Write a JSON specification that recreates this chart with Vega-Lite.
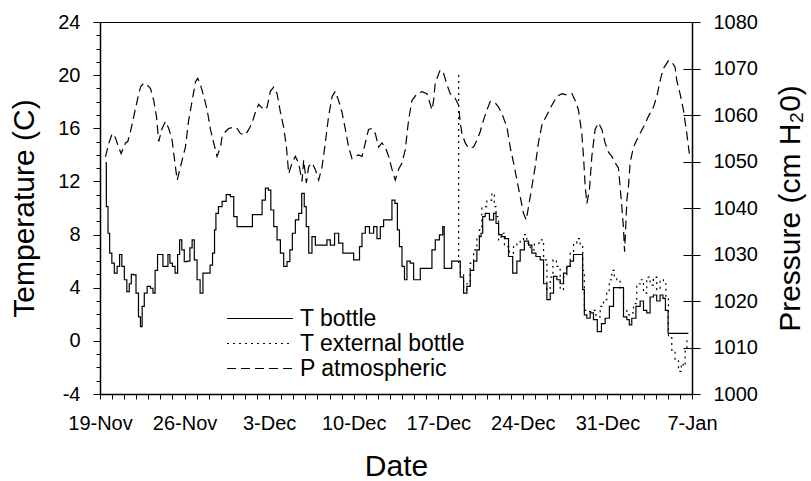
{
"$schema": "https://vega.github.io/schema/vega-lite/v6.json",
"autosize": {"type": "none"},
"width": 592, "height": 372,
"padding": {"left": 100, "top": 22, "right": 119, "bottom": 87},
"background": "white",
"config": {
  "font": "Liberation Sans",
  "view": {"stroke": "black", "strokeWidth": 1},
  "axis": {"grid": false, "domainColor": "black", "tickColor": "black", "labelColor": "black", "titleColor": "black", "labelFont": "Liberation Sans", "titleFont": "Liberation Sans", "labelFontSize": 20, "titleFontSize": 30, "titleFontWeight": "normal", "domainWidth": 1.5, "tickWidth": 1},
  "legend": {"title": null, "symbolType": "stroke", "symbolSize": 4356, "symbolStrokeWidth": 1.2, "symbolStrokeColor": "black", "labelFont": "Liberation Sans", "labelFontSize": 23, "labelColor": "black", "labelOffset": 6, "clipHeight": 25, "rowPadding": 0, "padding": 0, "labelLimit": 400}
},
"data": {"values": [
{"series":"T bottle","day":0.45,"value":13.4},{"series":"T bottle","day":0.60,"value":10.1},{"series":"T bottle","day":0.73,"value":8.1},{"series":"T bottle","day":0.87,"value":6.6},{"series":"T bottle","day":1.09,"value":5.85},{"series":"T bottle","day":1.28,"value":5.1},{"series":"T bottle","day":1.55,"value":5.6},{"series":"T bottle","day":1.70,"value":6.5},{"series":"T bottle","day":1.92,"value":5.6},{"series":"T bottle","day":2.11,"value":4.6},{"series":"T bottle","day":2.33,"value":3.7},{"series":"T bottle","day":2.52,"value":4.3},{"series":"T bottle","day":2.66,"value":5.0},{"series":"T bottle","day":2.88,"value":4.96},{"series":"T bottle","day":3.08,"value":3.6},{"series":"T bottle","day":3.29,"value":1.8},{"series":"T bottle","day":3.41,"value":1.07},{"series":"T bottle","day":3.57,"value":2.6},{"series":"T bottle","day":3.76,"value":3.6},{"series":"T bottle","day":4.04,"value":4.1},{"series":"T bottle","day":4.32,"value":3.96},{"series":"T bottle","day":4.45,"value":3.6},{"series":"T bottle","day":4.67,"value":5.3},{"series":"T bottle","day":4.86,"value":6.5},{"series":"T bottle","day":5.14,"value":6.5},{"series":"T bottle","day":5.28,"value":5.6},{"series":"T bottle","day":5.56,"value":5.6},{"series":"T bottle","day":5.69,"value":6.5},{"series":"T bottle","day":5.89,"value":5.85},{"series":"T bottle","day":6.10,"value":5.6},{"series":"T bottle","day":6.33,"value":5.1},{"series":"T bottle","day":6.52,"value":6.5},{"series":"T bottle","day":6.66,"value":7.6},{"series":"T bottle","day":6.88,"value":6.85},{"series":"T bottle","day":7.07,"value":5.96},{"series":"T bottle","day":7.34,"value":6.0},{"series":"T bottle","day":7.54,"value":7.0},{"series":"T bottle","day":7.71,"value":7.6},{"series":"T bottle","day":7.90,"value":6.1},{"series":"T bottle","day":8.17,"value":4.6},{"series":"T bottle","day":8.40,"value":3.6},{"series":"T bottle","day":8.64,"value":5.1},{"series":"T bottle","day":9.00,"value":5.1},{"series":"T bottle","day":9.22,"value":5.7},{"series":"T bottle","day":9.41,"value":6.6},{"series":"T bottle","day":9.55,"value":8.35},{"series":"T bottle","day":9.64,"value":9.6},{"series":"T bottle","day":9.97,"value":10.1},{"series":"T bottle","day":10.24,"value":10.5},{"series":"T bottle","day":10.65,"value":11.0},{"series":"T bottle","day":10.93,"value":10.85},{"series":"T bottle","day":11.21,"value":9.35},{"series":"T bottle","day":11.48,"value":8.6},{"series":"T bottle","day":12.03,"value":8.6},{"series":"T bottle","day":12.51,"value":8.6},{"series":"T bottle","day":12.72,"value":9.5},{"series":"T bottle","day":13.28,"value":9.5},{"series":"T bottle","day":13.55,"value":10.6},{"series":"T bottle","day":13.83,"value":11.5},{"series":"T bottle","day":14.04,"value":11.35},{"series":"T bottle","day":14.24,"value":9.85},{"series":"T bottle","day":14.52,"value":8.6},{"series":"T bottle","day":14.79,"value":7.6},{"series":"T bottle","day":15.07,"value":6.6},{"series":"T bottle","day":15.34,"value":5.6},{"series":"T bottle","day":15.62,"value":5.96},{"series":"T bottle","day":15.81,"value":6.85},{"series":"T bottle","day":16.03,"value":8.1},{"series":"T bottle","day":16.31,"value":9.1},{"series":"T bottle","day":16.58,"value":9.6},{"series":"T bottle","day":16.81,"value":11.1},{"series":"T bottle","day":17.00,"value":10.1},{"series":"T bottle","day":17.14,"value":8.6},{"series":"T bottle","day":17.41,"value":6.6},{"series":"T bottle","day":17.68,"value":7.85},{"series":"T bottle","day":17.97,"value":7.2},{"series":"T bottle","day":18.65,"value":7.2},{"series":"T bottle","day":18.92,"value":7.6},{"series":"T bottle","day":19.21,"value":7.2},{"series":"T bottle","day":19.62,"value":8.1},{"series":"T bottle","day":19.89,"value":7.35},{"series":"T bottle","day":20.31,"value":6.6},{"series":"T bottle","day":20.86,"value":6.6},{"series":"T bottle","day":21.13,"value":6.1},{"series":"T bottle","day":21.41,"value":6.1},{"series":"T bottle","day":21.55,"value":7.1},{"series":"T bottle","day":21.82,"value":8.1},{"series":"T bottle","day":22.10,"value":8.6},{"series":"T bottle","day":22.51,"value":8.1},{"series":"T bottle","day":22.79,"value":8.6},{"series":"T bottle","day":23.06,"value":7.7},{"series":"T bottle","day":23.34,"value":8.6},{"series":"T bottle","day":23.61,"value":9.1},{"series":"T bottle","day":24.03,"value":9.1},{"series":"T bottle","day":24.30,"value":10.6},{"series":"T bottle","day":24.52,"value":10.35},{"series":"T bottle","day":24.71,"value":8.35},{"series":"T bottle","day":24.86,"value":7.1},{"series":"T bottle","day":25.13,"value":5.6},{"series":"T bottle","day":25.27,"value":4.6},{"series":"T bottle","day":25.54,"value":6.0},{"series":"T bottle","day":25.82,"value":5.85},{"series":"T bottle","day":26.10,"value":4.6},{"series":"T bottle","day":26.37,"value":4.6},{"series":"T bottle","day":26.65,"value":5.45},{"series":"T bottle","day":27.34,"value":5.45},{"series":"T bottle","day":27.61,"value":6.85},{"series":"T bottle","day":27.89,"value":7.6},{"series":"T bottle","day":28.30,"value":7.97},{"series":"T bottle","day":28.44,"value":8.6},{"series":"T bottle","day":28.54,"value":5.45},{"series":"T bottle","day":29.68,"value":6.0},{"series":"T bottle","day":29.96,"value":4.8},{"series":"T bottle","day":30.23,"value":3.6},{"series":"T bottle","day":30.50,"value":4.1},{"series":"T bottle","day":30.79,"value":5.3},{"series":"T bottle","day":31.06,"value":6.0},{"series":"T bottle","day":31.33,"value":6.85},{"series":"T bottle","day":31.47,"value":7.85},{"series":"T bottle","day":31.61,"value":8.1},{"series":"T bottle","day":31.74,"value":9.35},{"series":"T bottle","day":32.03,"value":9.6},{"series":"T bottle","day":32.44,"value":9.1},{"series":"T bottle","day":32.71,"value":9.6},{"series":"T bottle","day":32.85,"value":8.85},{"series":"T bottle","day":33.13,"value":8.0},{"series":"T bottle","day":33.40,"value":7.85},{"series":"T bottle","day":33.68,"value":7.7},{"series":"T bottle","day":33.95,"value":6.35},{"series":"T bottle","day":34.37,"value":5.1},{"series":"T bottle","day":34.64,"value":6.0},{"series":"T bottle","day":34.92,"value":6.85},{"series":"T bottle","day":35.33,"value":7.5},{"series":"T bottle","day":35.61,"value":7.2},{"series":"T bottle","day":35.88,"value":6.6},{"series":"T bottle","day":36.29,"value":6.35},{"series":"T bottle","day":36.58,"value":6.1},{"series":"T bottle","day":36.85,"value":4.3},{"series":"T bottle","day":37.13,"value":3.1},{"series":"T bottle","day":37.40,"value":3.6},{"series":"T bottle","day":37.68,"value":4.85},{"series":"T bottle","day":37.95,"value":4.6},{"series":"T bottle","day":38.23,"value":4.3},{"series":"T bottle","day":38.50,"value":5.1},{"series":"T bottle","day":38.78,"value":5.6},{"series":"T bottle","day":39.06,"value":6.0},{"series":"T bottle","day":39.33,"value":6.5},{"series":"T bottle","day":39.88,"value":6.5},{"series":"T bottle","day":40.02,"value":3.85},{"series":"T bottle","day":40.16,"value":1.95},{"series":"T bottle","day":40.43,"value":1.7},{"series":"T bottle","day":40.71,"value":2.1},{"series":"T bottle","day":40.98,"value":1.6},{"series":"T bottle","day":41.34,"value":0.7},{"series":"T bottle","day":41.67,"value":1.3},{"series":"T bottle","day":41.95,"value":1.7},{"series":"T bottle","day":42.37,"value":2.6},{"series":"T bottle","day":42.64,"value":4.0},{"series":"T bottle","day":43.19,"value":4.0},{"series":"T bottle","day":43.47,"value":1.8},{"series":"T bottle","day":43.74,"value":1.6},{"series":"T bottle","day":43.88,"value":1.2},{"series":"T bottle","day":44.15,"value":1.7},{"series":"T bottle","day":44.57,"value":2.6},{"series":"T bottle","day":44.85,"value":3.0},{"series":"T bottle","day":45.12,"value":2.3},{"series":"T bottle","day":45.39,"value":2.1},{"series":"T bottle","day":45.67,"value":3.3},{"series":"T bottle","day":45.94,"value":3.45},{"series":"T bottle","day":46.22,"value":3.0},{"series":"T bottle","day":46.50,"value":3.45},{"series":"T bottle","day":46.69,"value":3.2},{"series":"T bottle","day":46.91,"value":2.3},{"series":"T bottle","day":47.13,"value":0.57},{"series":"T bottle","day":48.70,"value":0.57},
{"series":"T external bottle","day":29.68,"value":20.0},{"series":"T external bottle","day":29.69,"value":5.8},{"series":"T external bottle","day":29.96,"value":5.1},{"series":"T external bottle","day":30.23,"value":3.85},{"series":"T external bottle","day":30.50,"value":4.3},{"series":"T external bottle","day":30.79,"value":5.85},{"series":"T external bottle","day":31.06,"value":6.85},{"series":"T external bottle","day":31.33,"value":7.85},{"series":"T external bottle","day":31.47,"value":8.35},{"series":"T external bottle","day":31.74,"value":10.1},{"series":"T external bottle","day":32.30,"value":10.6},{"series":"T external bottle","day":32.57,"value":11.1},{"series":"T external bottle","day":32.71,"value":10.1},{"series":"T external bottle","day":32.85,"value":9.35},{"series":"T external bottle","day":33.13,"value":7.6},{"series":"T external bottle","day":33.27,"value":8.1},{"series":"T external bottle","day":33.68,"value":7.1},{"series":"T external bottle","day":34.09,"value":6.6},{"series":"T external bottle","day":34.37,"value":7.1},{"series":"T external bottle","day":34.64,"value":7.35},{"series":"T external bottle","day":34.92,"value":7.6},{"series":"T external bottle","day":35.19,"value":8.0},{"series":"T external bottle","day":35.47,"value":7.35},{"series":"T external bottle","day":35.75,"value":6.85},{"series":"T external bottle","day":36.16,"value":7.35},{"series":"T external bottle","day":36.58,"value":7.6},{"series":"T external bottle","day":36.85,"value":6.1},{"series":"T external bottle","day":37.13,"value":3.85},{"series":"T external bottle","day":37.40,"value":4.8},{"series":"T external bottle","day":37.59,"value":6.1},{"series":"T external bottle","day":37.95,"value":5.6},{"series":"T external bottle","day":38.23,"value":3.85},{"series":"T external bottle","day":38.50,"value":4.8},{"series":"T external bottle","day":38.78,"value":5.6},{"series":"T external bottle","day":39.06,"value":6.6},{"series":"T external bottle","day":39.33,"value":7.35},{"series":"T external bottle","day":39.60,"value":7.7},{"series":"T external bottle","day":39.88,"value":7.1},{"series":"T external bottle","day":40.02,"value":5.3},{"series":"T external bottle","day":40.16,"value":2.3},{"series":"T external bottle","day":40.43,"value":2.2},{"series":"T external bottle","day":40.84,"value":2.3},{"series":"T external bottle","day":41.26,"value":1.8},{"series":"T external bottle","day":41.54,"value":2.6},{"series":"T external bottle","day":41.81,"value":3.1},{"series":"T external bottle","day":42.08,"value":3.6},{"series":"T external bottle","day":42.22,"value":4.6},{"series":"T external bottle","day":42.50,"value":5.3},{"series":"T external bottle","day":42.64,"value":4.8},{"series":"T external bottle","day":42.91,"value":4.6},{"series":"T external bottle","day":43.19,"value":3.85},{"series":"T external bottle","day":43.47,"value":2.3},{"series":"T external bottle","day":43.74,"value":1.95},{"series":"T external bottle","day":44.02,"value":2.1},{"series":"T external bottle","day":44.29,"value":2.8},{"series":"T external bottle","day":44.57,"value":4.3},{"series":"T external bottle","day":44.85,"value":4.6},{"series":"T external bottle","day":45.12,"value":3.6},{"series":"T external bottle","day":45.39,"value":4.8},{"series":"T external bottle","day":45.67,"value":4.2},{"series":"T external bottle","day":45.94,"value":4.8},{"series":"T external bottle","day":46.22,"value":3.85},{"series":"T external bottle","day":46.50,"value":4.6},{"series":"T external bottle","day":46.77,"value":4.3},{"series":"T external bottle","day":46.91,"value":3.3},{"series":"T external bottle","day":47.19,"value":0.3},{"series":"T external bottle","day":47.46,"value":-0.7},{"series":"T external bottle","day":47.74,"value":-1.4},{"series":"T external bottle","day":48.02,"value":-2.3},{"series":"T external bottle","day":48.21,"value":-1.7},{"series":"T external bottle","day":48.33,"value":-1.9},{"series":"T external bottle","day":48.54,"value":-0.7},{"series":"T external bottle","day":48.62,"value":0.0},
{"series":"P atmospheric","day":0.45,"value":1051.0},{"series":"P atmospheric","day":0.73,"value":1053.9},{"series":"P atmospheric","day":1.01,"value":1056.0},{"series":"P atmospheric","day":1.28,"value":1055.1},{"series":"P atmospheric","day":1.53,"value":1053.1},{"series":"P atmospheric","day":1.75,"value":1051.7},{"series":"P atmospheric","day":2.11,"value":1054.0},{"series":"P atmospheric","day":2.30,"value":1054.3},{"series":"P atmospheric","day":2.52,"value":1056.4},{"series":"P atmospheric","day":2.80,"value":1059.7},{"series":"P atmospheric","day":3.08,"value":1063.1},{"series":"P atmospheric","day":3.35,"value":1066.0},{"series":"P atmospheric","day":3.62,"value":1066.9},{"series":"P atmospheric","day":3.90,"value":1066.5},{"series":"P atmospheric","day":4.18,"value":1065.7},{"series":"P atmospheric","day":4.45,"value":1063.1},{"series":"P atmospheric","day":4.67,"value":1059.7},{"series":"P atmospheric","day":4.86,"value":1054.3},{"series":"P atmospheric","day":5.14,"value":1057.1},{"series":"P atmospheric","day":5.42,"value":1058.6},{"series":"P atmospheric","day":5.69,"value":1057.1},{"series":"P atmospheric","day":5.97,"value":1054.6},{"series":"P atmospheric","day":6.24,"value":1048.9},{"series":"P atmospheric","day":6.39,"value":1046.0},{"series":"P atmospheric","day":6.52,"value":1047.4},{"series":"P atmospheric","day":6.80,"value":1050.3},{"series":"P atmospheric","day":7.07,"value":1053.1},{"series":"P atmospheric","day":7.34,"value":1058.9},{"series":"P atmospheric","day":7.63,"value":1063.1},{"series":"P atmospheric","day":7.90,"value":1067.1},{"series":"P atmospheric","day":8.09,"value":1067.9},{"series":"P atmospheric","day":8.31,"value":1066.5},{"series":"P atmospheric","day":8.59,"value":1064.0},{"series":"P atmospheric","day":8.87,"value":1061.1},{"series":"P atmospheric","day":9.14,"value":1056.9},{"series":"P atmospheric","day":9.41,"value":1054.0},{"series":"P atmospheric","day":9.69,"value":1051.1},{"series":"P atmospheric","day":9.97,"value":1053.1},{"series":"P atmospheric","day":10.11,"value":1055.4},{"series":"P atmospheric","day":10.38,"value":1056.4},{"series":"P atmospheric","day":10.65,"value":1057.1},{"series":"P atmospheric","day":11.07,"value":1057.4},{"series":"P atmospheric","day":11.35,"value":1057.1},{"series":"P atmospheric","day":11.62,"value":1056.0},{"series":"P atmospheric","day":12.03,"value":1055.7},{"series":"P atmospheric","day":12.31,"value":1056.9},{"series":"P atmospheric","day":12.59,"value":1058.3},{"series":"P atmospheric","day":12.86,"value":1060.6},{"series":"P atmospheric","day":13.13,"value":1062.3},{"series":"P atmospheric","day":13.55,"value":1061.1},{"series":"P atmospheric","day":13.83,"value":1061.7},{"series":"P atmospheric","day":14.10,"value":1065.1},{"series":"P atmospheric","day":14.38,"value":1066.0},{"series":"P atmospheric","day":14.66,"value":1064.6},{"series":"P atmospheric","day":14.93,"value":1060.6},{"series":"P atmospheric","day":15.20,"value":1057.4},{"series":"P atmospheric","day":15.43,"value":1053.1},{"series":"P atmospheric","day":15.62,"value":1047.4},{"series":"P atmospheric","day":15.90,"value":1049.7},{"series":"P atmospheric","day":16.17,"value":1051.1},{"series":"P atmospheric","day":16.44,"value":1049.7},{"series":"P atmospheric","day":16.72,"value":1045.7},{"series":"P atmospheric","day":16.86,"value":1050.3},{"series":"P atmospheric","day":17.08,"value":1045.4},{"series":"P atmospheric","day":17.27,"value":1048.9},{"series":"P atmospheric","day":17.55,"value":1049.7},{"series":"P atmospheric","day":17.82,"value":1048.3},{"series":"P atmospheric","day":18.10,"value":1046.0},{"series":"P atmospheric","day":18.38,"value":1048.9},{"series":"P atmospheric","day":18.65,"value":1054.0},{"series":"P atmospheric","day":18.92,"value":1059.7},{"series":"P atmospheric","day":19.21,"value":1064.0},{"series":"P atmospheric","day":19.48,"value":1065.1},{"series":"P atmospheric","day":19.75,"value":1063.1},{"series":"P atmospheric","day":20.03,"value":1060.6},{"series":"P atmospheric","day":20.31,"value":1056.9},{"series":"P atmospheric","day":20.58,"value":1053.1},{"series":"P atmospheric","day":20.86,"value":1050.6},{"series":"P atmospheric","day":21.13,"value":1051.1},{"series":"P atmospheric","day":21.41,"value":1051.4},{"series":"P atmospheric","day":21.69,"value":1051.1},{"series":"P atmospheric","day":21.96,"value":1054.0},{"series":"P atmospheric","day":22.23,"value":1056.9},{"series":"P atmospheric","day":22.51,"value":1057.1},{"series":"P atmospheric","day":22.79,"value":1056.0},{"series":"P atmospheric","day":23.06,"value":1053.1},{"series":"P atmospheric","day":23.34,"value":1054.0},{"series":"P atmospheric","day":23.61,"value":1053.1},{"series":"P atmospheric","day":23.89,"value":1051.1},{"series":"P atmospheric","day":24.17,"value":1048.3},{"series":"P atmospheric","day":24.44,"value":1046.0},{"series":"P atmospheric","day":24.71,"value":1048.3},{"series":"P atmospheric","day":25.00,"value":1049.7},{"series":"P atmospheric","day":25.27,"value":1052.6},{"series":"P atmospheric","day":25.54,"value":1058.9},{"series":"P atmospheric","day":25.82,"value":1063.1},{"series":"P atmospheric","day":26.24,"value":1064.6},{"series":"P atmospheric","day":26.65,"value":1065.0},{"series":"P atmospheric","day":27.06,"value":1064.6},{"series":"P atmospheric","day":27.48,"value":1061.1},{"series":"P atmospheric","day":27.61,"value":1063.1},{"series":"P atmospheric","day":27.75,"value":1066.9},{"series":"P atmospheric","day":28.16,"value":1069.7},{"series":"P atmospheric","day":28.44,"value":1068.9},{"series":"P atmospheric","day":28.72,"value":1066.5},{"series":"P atmospheric","day":28.99,"value":1064.6},{"series":"P atmospheric","day":29.40,"value":1063.6},{"series":"P atmospheric","day":29.68,"value":1062.1},{"series":"P atmospheric","day":29.82,"value":1058.3},{"series":"P atmospheric","day":29.96,"value":1056.0},{"series":"P atmospheric","day":30.23,"value":1054.0},{"series":"P atmospheric","day":30.50,"value":1052.9},{"series":"P atmospheric","day":30.92,"value":1053.1},{"series":"P atmospheric","day":31.20,"value":1054.6},{"series":"P atmospheric","day":31.47,"value":1056.4},{"series":"P atmospheric","day":31.74,"value":1058.9},{"series":"P atmospheric","day":32.03,"value":1061.1},{"series":"P atmospheric","day":32.30,"value":1062.9},{"series":"P atmospheric","day":32.71,"value":1062.6},{"series":"P atmospheric","day":32.99,"value":1061.7},{"series":"P atmospheric","day":33.27,"value":1060.3},{"series":"P atmospheric","day":33.68,"value":1057.4},{"series":"P atmospheric","day":33.95,"value":1053.1},{"series":"P atmospheric","day":34.23,"value":1049.7},{"series":"P atmospheric","day":34.51,"value":1046.0},{"series":"P atmospheric","day":34.78,"value":1042.4},{"series":"P atmospheric","day":35.05,"value":1038.9},{"series":"P atmospheric","day":35.28,"value":1037.4},{"series":"P atmospheric","day":35.47,"value":1040.3},{"series":"P atmospheric","day":35.75,"value":1044.6},{"series":"P atmospheric","day":36.02,"value":1048.9},{"series":"P atmospheric","day":36.29,"value":1054.0},{"series":"P atmospheric","day":36.58,"value":1057.9},{"series":"P atmospheric","day":36.99,"value":1060.0},{"series":"P atmospheric","day":37.40,"value":1062.1},{"series":"P atmospheric","day":37.82,"value":1064.0},{"series":"P atmospheric","day":38.23,"value":1064.6},{"series":"P atmospheric","day":38.64,"value":1064.3},{"series":"P atmospheric","day":39.06,"value":1064.6},{"series":"P atmospheric","day":39.33,"value":1063.1},{"series":"P atmospheric","day":39.60,"value":1061.1},{"series":"P atmospheric","day":39.88,"value":1056.0},{"series":"P atmospheric","day":40.02,"value":1051.1},{"series":"P atmospheric","day":40.16,"value":1044.6},{"series":"P atmospheric","day":40.30,"value":1041.0},{"series":"P atmospheric","day":40.51,"value":1043.9},{"series":"P atmospheric","day":40.71,"value":1051.1},{"series":"P atmospheric","day":40.98,"value":1056.9},{"series":"P atmospheric","day":41.26,"value":1058.3},{"series":"P atmospheric","day":41.54,"value":1056.9},{"series":"P atmospheric","day":41.81,"value":1054.0},{"series":"P atmospheric","day":42.08,"value":1052.0},{"series":"P atmospheric","day":42.37,"value":1051.1},{"series":"P atmospheric","day":42.64,"value":1049.7},{"series":"P atmospheric","day":42.91,"value":1048.6},{"series":"P atmospheric","day":43.05,"value":1044.6},{"series":"P atmospheric","day":43.19,"value":1040.3},{"series":"P atmospheric","day":43.32,"value":1036.0},{"series":"P atmospheric","day":43.42,"value":1030.6},{"series":"P atmospheric","day":43.61,"value":1041.7},{"series":"P atmospheric","day":43.74,"value":1044.6},{"series":"P atmospheric","day":43.88,"value":1049.7},{"series":"P atmospheric","day":44.15,"value":1053.1},{"series":"P atmospheric","day":44.57,"value":1055.4},{"series":"P atmospheric","day":44.98,"value":1057.4},{"series":"P atmospheric","day":45.39,"value":1059.7},{"series":"P atmospheric","day":45.81,"value":1061.7},{"series":"P atmospheric","day":46.09,"value":1064.0},{"series":"P atmospheric","day":46.36,"value":1067.4},{"series":"P atmospheric","day":46.63,"value":1070.0},{"series":"P atmospheric","day":47.05,"value":1071.7},{"series":"P atmospheric","day":47.33,"value":1071.4},{"series":"P atmospheric","day":47.60,"value":1070.3},{"series":"P atmospheric","day":47.74,"value":1067.4},{"series":"P atmospheric","day":48.01,"value":1064.6},{"series":"P atmospheric","day":48.29,"value":1061.1},{"series":"P atmospheric","day":48.57,"value":1056.0},{"series":"P atmospheric","day":48.78,"value":1051.7}
]},
"encoding": {
  "x": {"field": "day", "type": "quantitative", "scale": {"domain": [0, 49], "nice": false, "zero": false},
    "axis": {"title": "Date", "values": [0,1,2,3,4,5,6,7,8,9,10,11,12,13,14,15,16,17,18,19,20,21,22,23,24,25,26,27,28,29,30,31,32,33,34,35,36,37,38,39,40,41,42,43,44,45,46,47,48,49],
      "labelExpr": "datum.value % 7 == 0 ? ['19-Nov','26-Nov','3-Dec','10-Dec','17-Dec','24-Dec','31-Dec','7-Jan'][datum.value / 7] : ''",
      "tickSize": 5, "labelFlush": false, "labelOverlap": false, "labelBound": false, "labelPadding": 14, "titlePadding": 18, "domainWidth": 1.5}}
},
"layer": [
  {
    "transform": [{"filter": "datum.series != 'P atmospheric'"}],
    "mark": {"type": "line", "interpolate": "step", "strokeWidth": 1.2, "color": "black"},
    "encoding": {
      "y": {"field": "value", "type": "quantitative", "scale": {"domain": [-4, 24], "nice": false, "zero": false},
        "axis": {"orient": "left", "title": "Temperature (C)", "values": [-4,0,4,8,12,16,20,24], "labelExpr": "'' + datum.value", "tickSize": 7, "labelPadding": 13, "titlePadding": 18}},
      "strokeDash": {"field": "series", "type": "nominal",
        "scale": {"domain": ["T bottle", "T external bottle", "P atmospheric"], "range": [[1,0],[2,4],[9,5]]},
        "legend": {"orient": "none", "legendX": 126, "legendY": 284}}
    }
  },
  {
    "transform": [{"filter": "datum.series == 'P atmospheric'"}],
    "mark": {"type": "line", "strokeWidth": 1.2, "color": "black"},
    "encoding": {
      "y": {"field": "value", "type": "quantitative", "scale": {"domain": [1000, 1080], "nice": false, "zero": false},
        "axis": {"orient": "right", "title": "Pressure (cm H₂0)", "values": [1000,1010,1020,1030,1040,1050,1060,1070,1080], "format": "d", "tickSize": 8, "labelPadding": 13, "titlePadding": 18, "titleAngle": 270, "titleBaseline": "top"}},
      "strokeDash": {"field": "series", "type": "nominal",
        "scale": {"domain": ["T bottle", "T external bottle", "P atmospheric"], "range": [[1,0],[2,4],[9,5]]},
        "legend": {"orient": "none", "legendX": 126, "legendY": 284}}
    }
  },
  {
    "transform": [{"filter": "datum.series == 'T bottle'"}],
    "mark": {"type": "line", "opacity": 0},
    "encoding": {
      "y": {"field": "value", "type": "quantitative", "scale": {"domain": [-4, 24], "nice": false, "zero": false},
        "axis": {"orient": "left", "title": null, "labels": false, "domain": false, "tickSize": 4, "values": [-4,-3,-2,-1,0,1,2,3,4,5,6,7,8,9,10,11,12,13,14,15,16,17,18,19,20,21,22,23,24]}}
    }
  },
  {
    "transform": [{"filter": "datum.series == 'P atmospheric'"}],
    "mark": {"type": "line", "opacity": 0},
    "encoding": {
      "y": {"field": "value", "type": "quantitative", "scale": {"domain": [1000, 1080], "nice": false, "zero": false},
        "axis": {"orient": "right", "title": null, "labels": false, "domain": false, "tickSize": -9, "values": [1010,1020,1030,1040,1050,1060,1070]}}
    }
  }
],
"resolve": {"scale": {"y": "independent"}}
}
